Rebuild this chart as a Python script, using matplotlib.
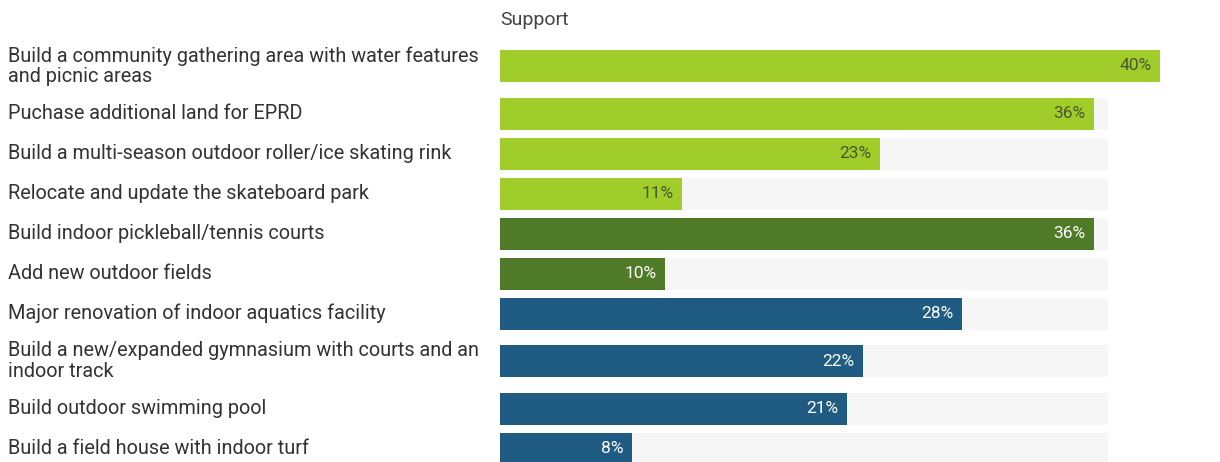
import matplotlib.pyplot as plt
from matplotlib.transforms import blended_transform_factory

plt.rcParams['font.family'] = ['Roboto', 'DejaVu Sans']

# Data
labels = [
    "Build a community gathering area with water features\nand picnic areas",
    "Puchase additional land for EPRD",
    "Build a multi-season outdoor roller/ice skating rink",
    "Relocate and update the skateboard park",
    "Build indoor pickleball/tennis courts",
    "Add new outdoor fields",
    "Major renovation of indoor aquatics facility",
    "Build a new/expanded gymnasium with courts and an\nindoor track",
    "Build outdoor swimming pool",
    "Build a field house with indoor turf",
]
support = [40, 36, 23, 11, 36, 10, 28, 22, 21, 8]
groups = ["light", "light", "light", "light", "dark", "dark",
          "blue", "blue", "blue", "blue"]

colors = {"light": "#a0cd2a", "dark": "#4f7a28", "blue": "#1f5b82"}
text_colors = {"light": "#4d5530", "dark": "white", "blue": "white"}

W, H = 1220, 462
fig = plt.figure(figsize=(W / 100, H / 100), dpi=100)
ax = fig.add_axes([500 / W, 0, 720 / W, 1])

# vertical layout in pixel units: two-line rows get taller slots
slots = [55 if "\n" in lab else 40 for lab in labels]
centers = []
y = 66
for i, s in enumerate(slots):
    if i > 0:
        y += (slots[i - 1] + s) / 2
    centers.append(y)

px_per_pct = 16.5
ax.set_xlim(0, 720 / px_per_pct)
ax.set_ylim(H, 0)
ax.axis("off")

# faint background tracks
track_end = 608 / px_per_pct
ax.barh(centers, [track_end] * len(centers), height=32, color="#f6f6f6", zorder=1)
ax.barh(centers, support, height=32,
        color=[colors[g] for g in groups], zorder=2)

for c, v, g in zip(centers, support, groups):
    ax.text(v - 0.5, c, f"{v}%", ha="right", va="center", fontsize=12.5,
            color=text_colors[g], zorder=3)

tr = blended_transform_factory(fig.transFigure, ax.transData)
for c, lab in zip(centers, labels):
    ax.text(8 / W, c, lab, transform=tr, ha="left", va="center",
            fontsize=14.3, color="#333333", linespacing=1.1)

ax.text(0, 20, "Support", ha="left", va="center", fontsize=14, color="#444444")

fig.savefig("out.png", dpi=100)
